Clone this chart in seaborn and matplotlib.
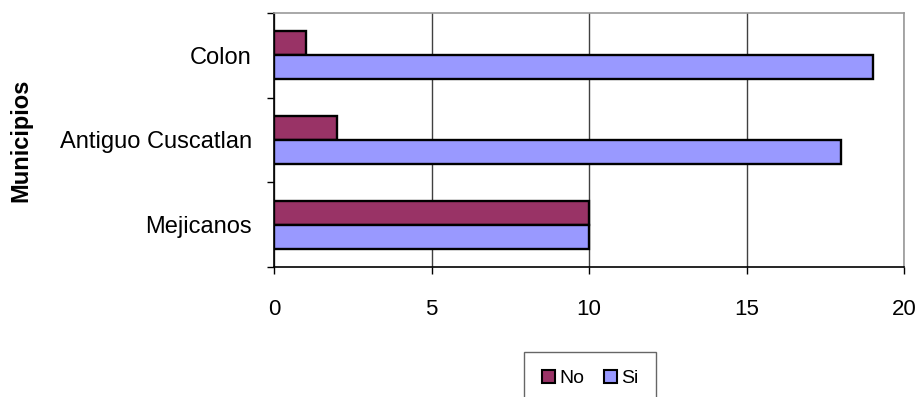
import numpy as np
import pandas as pd
import seaborn as sns
import matplotlib.pyplot as plt
from matplotlib.patches import Patch

# datos de la encuesta por municipio
municipios = ['Colon', 'Antiguo Cuscatlan', 'Mejicanos']
no = [1, 2, 10]
si = [19, 18, 10]
respuestas = ['No', 'Si']
colores = ['#993366', '#9999FF']
xticks = [0, 5, 10, 15, 20]

df = pd.DataFrame({'Municipio': municipios * 2,
                   'Respuesta': ['No'] * len(no) + ['Si'] * len(si),
                   'Cantidad': no + si})

sns.set_style('white', rc={'text.color': 'black', 'axes.labelcolor': 'black',
                           'xtick.color': 'black', 'ytick.color': 'black'})
plt.rcParams['font.family'] = ['Liberation Sans', 'DejaVu Sans']

fig = plt.figure(figsize=(9.22, 3.97), dpi=100)
ax = fig.add_axes([274 / 922, 1 - 267 / 397, 630 / 922, 254 / 397])

sns.barplot(data=df, x='Cantidad', y='Municipio', hue='Respuesta',
            order=municipios, hue_order=respuestas, palette=colores,
            orient='h', width=0.565, edgecolor='black', linewidth=1.7,
            saturation=1, legend=False, ax=ax, zorder=3)

ax.set_xlim(0, 20)
ax.set_ylim(2.5, -0.5)
ax.set_xticks(xticks)
ax.set_axisbelow(True)
ax.xaxis.grid(True, color='#404040', linewidth=1)
ax.yaxis.grid(False)

# spines: izquierda/abajo negro, arriba/derecha gris
for s in ['left', 'bottom']:
    ax.spines[s].set_color('black')
    ax.spines[s].set_linewidth(1.2)
for s in ['top', 'right']:
    ax.spines[s].set_color('#999999')
    ax.spines[s].set_linewidth(1.2)

# ticks del eje y en los limites de cada categoria
ax.set_yticks([-0.5, 0.5, 1.5, 2.5], minor=True)
ax.tick_params(axis='y', which='minor', length=5, width=1, color='black', direction='out', left=True)
ax.tick_params(axis='y', which='major', length=0, pad=16, labelsize=17, labelcolor='black')
ax.tick_params(axis='x', which='major', length=5, width=1, color='black', direction='out',
               bottom=True, pad=18, labelsize=16, labelcolor='black')

ax.set_xlabel('')
ax.set_ylabel('Municipios', fontsize=17, fontweight='bold', color='black')
ax.yaxis.set_label_coords(-0.384, 0.5)

handles = [Patch(facecolor=c, edgecolor='black', linewidth=1.5) for c in colores]
leg = ax.legend(handles, respuestas, loc='upper center',
                bbox_to_anchor=((590 - 274) / 630, -85 / 254), borderaxespad=0,
                ncol=2, fontsize=14, frameon=True, fancybox=False, edgecolor='#404040',
                handlelength=0.7, handleheight=0.7, handletextpad=0.2, columnspacing=1.0,
                borderpad=0.9)
leg.get_frame().set_linewidth(1)
for t in leg.get_texts():
    t.set_color('black')

fig.savefig('out.png', dpi=100)
